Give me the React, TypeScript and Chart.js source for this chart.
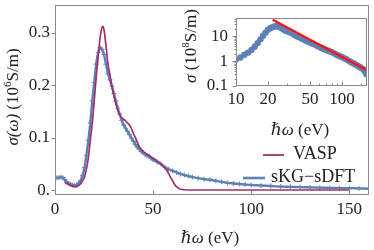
import React, { useEffect, useRef } from "react";
import { Chart, registerables } from "chart.js";
Chart.register(...registerables);

const SERIF = "'Liberation Serif', 'DejaVu Serif', serif";
const TEXT = "#222222";
const FRAME = "#8a8a8a";
const BLUE = "#5E81B5";
const PURPLE = "#A0306C";
const RED = "#FF1010";

Chart.defaults.font.family = SERIF;

// ---- main panel data ----
const skgX = [0, 1, 2, 3, 4, 5, 6, 7, 8, 9, 10, 11, 12, 13, 14, 15, 16, 17, 18, 19, 20, 21, 22, 23, 24, 25, 26, 27, 28, 29, 30, 31, 32, 33, 34, 35, 36, 37, 38, 39, 40, 41, 42, 43, 44, 45, 46, 47, 48, 49, 50, 52, 54, 56, 58, 60, 62, 64, 66, 68, 70, 73, 76, 79, 82, 85, 88, 91, 94, 97, 100, 105, 110, 115, 120, 125, 130, 135, 140, 145, 150, 155, 160];
const skgY = [0.024, 0.024, 0.024, 0.025, 0.024, 0.020, 0.016, 0.013, 0.011, 0.010, 0.009, 0.010, 0.013, 0.018, 0.028, 0.043, 0.066, 0.095, 0.128, 0.170, 0.205, 0.240, 0.262, 0.271, 0.268, 0.258, 0.240, 0.222, 0.210, 0.198, 0.184, 0.170, 0.156, 0.145, 0.133, 0.124, 0.118, 0.112, 0.106, 0.099, 0.093, 0.087, 0.082, 0.078, 0.074, 0.071, 0.068, 0.066, 0.064, 0.061, 0.058, 0.054, 0.050, 0.044, 0.040, 0.037, 0.034, 0.031, 0.029, 0.027, 0.025, 0.023, 0.021, 0.020, 0.018, 0.016, 0.014, 0.013, 0.012, 0.011, 0.010, 0.009, 0.008, 0.007, 0.0065, 0.006, 0.0055, 0.005, 0.0045, 0.004, 0.004, 0.0035, 0.003];
const vaspX = [5, 6, 7, 8, 9, 10, 11, 12, 13, 14, 15, 16, 17, 18, 19, 20, 21, 22, 23, 24, 24.5, 25, 26, 27, 28, 29, 30, 31, 32, 33, 34, 35, 36, 37, 38, 39, 40, 41, 42, 43, 44, 45, 46, 48, 50, 52, 54, 56, 57, 58, 59, 60, 61, 62, 63, 64, 66, 70, 80, 100, 120, 150];
const vaspY = [0.015, 0.013, 0.011, 0.009, 0.008, 0.007, 0.007, 0.009, 0.012, 0.018, 0.025, 0.040, 0.062, 0.095, 0.128, 0.170, 0.215, 0.255, 0.290, 0.310, 0.312, 0.305, 0.275, 0.240, 0.220, 0.198, 0.180, 0.165, 0.152, 0.143, 0.138, 0.135, 0.132, 0.128, 0.124, 0.117, 0.108, 0.100, 0.091, 0.083, 0.078, 0.074, 0.071, 0.066, 0.061, 0.056, 0.050, 0.043, 0.038, 0.031, 0.024, 0.018, 0.011, 0.007, 0.004, 0.002, 0.001, 0.0005, 0.0005, 0.0005, 0.0005, 0.0005];
const mainXTicks = [0, 50, 100, 150];
const mainYTicks = [0, 0.1, 0.2, 0.3];
const mainYTickLabels = ["0.", "0.1", "0.2", "0.3"];
const legendLabels = ["VASP", "sKG\u2212sDFT"];

// ---- inset data ----
const insetX = [10, 11, 12, 13, 14, 15, 16, 17, 18, 19, 20, 21, 22, 23, 24, 25, 26, 27, 28, 29, 30, 32, 34, 36, 38, 40, 42, 44, 46, 48, 50, 53, 56, 59, 62, 65, 68, 71, 74, 77, 80, 84, 88, 92, 96, 100, 105, 110, 115, 120, 125, 130, 135, 140, 145, 150, 155, 160, 165, 170];
const insetY = [1.15, 1.4, 1.8, 2.2, 2.8, 3.8, 5.3, 7.5, 10.5, 14, 18, 21, 23, 24.5, 25, 24.5, 23, 21, 19, 17.5, 16, 14.5, 12.8, 11, 9.8, 8.8, 8, 7.3, 6.6, 6, 5.6, 5.0, 4.5, 4.0, 3.6, 3.3, 3.0, 2.8, 2.6, 2.45, 2.3, 2.05, 1.85, 1.7, 1.55, 1.45, 1.3, 1.2, 1.05, 0.95, 0.85, 0.78, 0.72, 0.66, 0.6, 0.55, 0.5, 0.45, 0.38, 0.3];
const fitX = [22.2, 170];
const fitY = [46, 0.44];
const insetXTicks = [10, 20, 50, 100];
const insetXMinor = [30, 40, 60, 70, 80, 90, 150];
const insetYTicks = [0.1, 1, 10];
const insetYTickLabels = ["0.1", "1", "10"];
const insetYMinor = [0.2, 0.3, 0.4, 0.5, 0.6, 0.7, 0.8, 0.9, 2, 3, 4, 5, 6, 7, 8, 9, 20, 30, 40, 50];

type Part = { t: string; it?: boolean; sup?: boolean };

function drawMixed(ctx: CanvasRenderingContext2D, parts: Part[], cx: number, cy: number, size: number, rotate: boolean) {
  ctx.save();
  ctx.translate(cx, cy);
  if (rotate) ctx.rotate(-Math.PI / 2);
  ctx.textBaseline = "middle";
  ctx.textAlign = "left";
  ctx.fillStyle = TEXT;
  const fonts = parts.map((p) => `${p.it ? "italic " : ""}${p.sup ? Math.round(size * 0.65) : size}px ${SERIF}`);
  const widths = parts.map((p, i) => {
    ctx.font = fonts[i];
    return ctx.measureText(p.t).width;
  });
  const total = widths.reduce((a, b) => a + b, 0);
  let x = -total / 2;
  parts.forEach((p, i) => {
    ctx.font = fonts[i];
    ctx.fillText(p.t, x, p.sup ? -size * 0.32 : 0);
    x += widths[i];
  });
  ctx.restore();
}

function frameAndTicks(chart: any, xMajor: number[], xMinor: number[], yMajor: number[], yMinor: number[]) {
  const ctx = chart.ctx as CanvasRenderingContext2D;
  const a = chart.chartArea;
  const xs = chart.scales.x;
  const ys = chart.scales.y;
  ctx.save();
  ctx.strokeStyle = FRAME;
  ctx.lineWidth = 1;
  const l = Math.round(a.left) + 0.5;
  const r = Math.round(a.right) - 0.5;
  const t = Math.round(a.top) + 0.5;
  const b = Math.round(a.bottom) - 0.5;
  ctx.strokeRect(l, t, r - l, b - t);
  ctx.beginPath();
  xMajor.forEach((v) => {
    const px = Math.round(xs.getPixelForValue(v)) + 0.5;
    ctx.moveTo(px, b);
    ctx.lineTo(px, b - 4);
  });
  xMinor.forEach((v) => {
    const px = Math.round(xs.getPixelForValue(v)) + 0.5;
    ctx.moveTo(px, b);
    ctx.lineTo(px, b - 2);
  });
  yMajor.forEach((v) => {
    const py = Math.round(ys.getPixelForValue(v)) + 0.5;
    ctx.moveTo(l, py);
    ctx.lineTo(l - 4, py);
  });
  yMinor.forEach((v) => {
    const py = Math.round(ys.getPixelForValue(v)) + 0.5;
    ctx.moveTo(l, py);
    ctx.lineTo(l - 2, py);
  });
  ctx.stroke();
  ctx.restore();
}

function drawTickLabels(chart: any, xVals: number[], xLabels: string[], yVals: number[], yLabels: string[], xGap: number, yGap: number) {
  const ctx = chart.ctx as CanvasRenderingContext2D;
  const a = chart.chartArea;
  const xs = chart.scales.x;
  const ys = chart.scales.y;
  ctx.save();
  ctx.font = `17px ${SERIF}`;
  ctx.fillStyle = TEXT;
  ctx.textAlign = "center";
  ctx.textBaseline = "middle";
  xVals.forEach((v, i) => {
    ctx.fillText(xLabels[i], xs.getPixelForValue(v), a.bottom + xGap);
  });
  ctx.textAlign = "right";
  yVals.forEach((v, i) => {
    ctx.fillText(yLabels[i], a.left - yGap, ys.getPixelForValue(v));
  });
  ctx.restore();
}

const mainDecor = {
  id: "mainDecor",
  afterDraw(chart: any) {
    const ctx = chart.ctx as CanvasRenderingContext2D;
    frameAndTicks(chart, mainXTicks, [], mainYTicks, []);
    drawTickLabels(chart, mainXTicks, mainXTicks.map(String), mainYTicks, mainYTickLabels, 15, 5);
    drawMixed(ctx, [{ t: "\u210F\u03C9", it: true }, { t: " (eV)" }], 210, 239, 17, false);
    drawMixed(ctx, [{ t: "\u03C3(\u03C9)", it: true }, { t: " (10" }, { t: "6", sup: true }, { t: "S/m)" }], 14, 97, 17, true);
    // legend
    ctx.save();
    ctx.font = `18px ${SERIF}`;
    ctx.textBaseline = "middle";
    ctx.fillStyle = TEXT;
    const textLeft = [293, 271];
    const lineL = [263, 243];
    const lineR = [284, 265];
    const colors = [PURPLE, BLUE];
    const ys = [154, 177];
    legendLabels.forEach((lab, i) => {
      ctx.fillText(lab, textLeft[i], ys[i]);
      ctx.strokeStyle = colors[i];
      ctx.lineWidth = i === 0 ? 1.8 : 2.6;
      ctx.beginPath();
      ctx.moveTo(lineL[i], ys[i] + 1);
      ctx.lineTo(lineR[i], ys[i] + 1);
      ctx.stroke();
    });
    ctx.restore();
  },
};

const insetDecor = {
  id: "insetDecor",
  afterDraw(chart: any) {
    const ctx = chart.ctx as CanvasRenderingContext2D;
    frameAndTicks(chart, insetXTicks, insetXMinor, insetYTicks, insetYMinor);
    drawTickLabels(chart, insetXTicks, insetXTicks.map(String), [], [], 14, 8);
    drawMixed(ctx, [{ t: "\u210F\u03C9", it: true }, { t: " (eV)" }], 120, 131, 17, false);
    drawMixed(ctx, [{ t: "\u03C3", it: true }, { t: " (10" }, { t: "8", sup: true }, { t: "S/m)" }], 12, 46, 17, true);
  },
};

export default function App() {
  const mainRef = useRef<HTMLCanvasElement | null>(null);
  const insetRef = useRef<HTMLCanvasElement | null>(null);

  useEffect(() => {
    const main = new Chart(mainRef.current as HTMLCanvasElement, {
      type: "line",
      data: {
        datasets: [
          {
            label: "sKG-sDFT",
            data: skgX.map((x, i) => ({ x, y: skgY[i] })),
            borderColor: BLUE,
            borderWidth: 2.4,
            pointStyle: "cross",
            pointRadius: 2.5,
            pointBorderColor: "rgba(94,129,181,0.85)",
            pointBorderWidth: 1.2,
            tension: 0.2,
            order: 2,
          },
          {
            label: "VASP",
            data: vaspX.map((x, i) => ({ x, y: vaspY[i] })),
            borderColor: PURPLE,
            borderWidth: 1.7,
            pointRadius: 0,
            cubicInterpolationMode: "monotone",
            order: 1,
          },
        ] as any,
      },
      options: {
        animation: false,
        responsive: false,
        devicePixelRatio: 1,
        layout: { padding: { top: 0, right: 2, left: 0, bottom: 0 } },
        plugins: { legend: { display: false }, tooltip: { enabled: false } },
        scales: {
          x: {
            type: "linear",
            min: 0,
            max: 160,
            grid: { display: false, drawTicks: false },
            border: { display: false },
            afterBuildTicks: (s: any) => {
              s.ticks = mainXTicks.map((v) => ({ value: v }));
            },
            afterFit: (s: any) => {
              s.height = 55;
            },
            ticks: { display: false },
          },
          y: {
            type: "linear",
            min: -0.009,
            max: 0.352,
            grid: { display: false, drawTicks: false },
            border: { display: false },
            afterBuildTicks: (s: any) => {
              s.ticks = mainYTicks.map((v) => ({ value: v }));
            },
            afterFit: (s: any) => {
              s.width = 55;
            },
            ticks: { display: false },
          },
        },
      } as any,
      plugins: [mainDecor],
    });

    const inset = new Chart(insetRef.current as HTMLCanvasElement, {
      type: "line",
      data: {
        datasets: [
          {
            label: "fit",
            data: fitX.map((x, i) => ({ x, y: fitY[i] })),
            borderColor: RED,
            borderWidth: 2.2,
            pointRadius: 0,
            order: 1,
          },
          {
            label: "data",
            data: insetX.map((x, i) => ({ x, y: insetY[i] })),
            showLine: false,
            pointRadius: 3.2,
            pointBackgroundColor: BLUE,
            pointBorderWidth: 0,
            order: 2,
          },
        ] as any,
      },
      options: {
        animation: false,
        responsive: false,
        devicePixelRatio: 1,
        layout: { padding: { top: 5, right: 7, left: 0, bottom: 0 } },
        plugins: { legend: { display: false }, tooltip: { enabled: false } },
        scales: {
          x: {
            type: "logarithmic",
            min: 10,
            max: 172,
            grid: { display: false, drawTicks: false },
            border: { display: false },
            afterFit: (s: any) => {
              s.height = 59;
            },
            ticks: { display: false },
          },
          y: {
            type: "logarithmic",
            min: 0.1,
            max: 53,
            grid: { display: false, drawTicks: false },
            border: { display: false },
            afterBuildTicks: (s: any) => {
              s.ticks = insetYTicks.map((v) => ({ value: v }));
            },
            afterFit: (s: any) => {
              s.width = 56;
            },
            ticks: {
              display: true,
              autoSkip: false,
              padding: 8,
              font: { family: SERIF, size: 17 },
              color: TEXT,
              callback: (v: any, i: number) => insetYTickLabels[i],
            },
          },
        },
      } as any,
      plugins: [insetDecor],
    });

    return () => {
      main.destroy();
      inset.destroy();
    };
  }, []);

  return (
    <div style={{ position: "absolute", left: 0, top: 0, width: 374, height: 250, background: "#fff", overflow: "hidden" }}>
      <canvas ref={mainRef} width={374} height={250} style={{ position: "absolute", left: 0, top: 0 }} />
      <canvas ref={insetRef} width={194} height={145} style={{ position: "absolute", left: 180, top: 0 }} />
    </div>
  );
}
